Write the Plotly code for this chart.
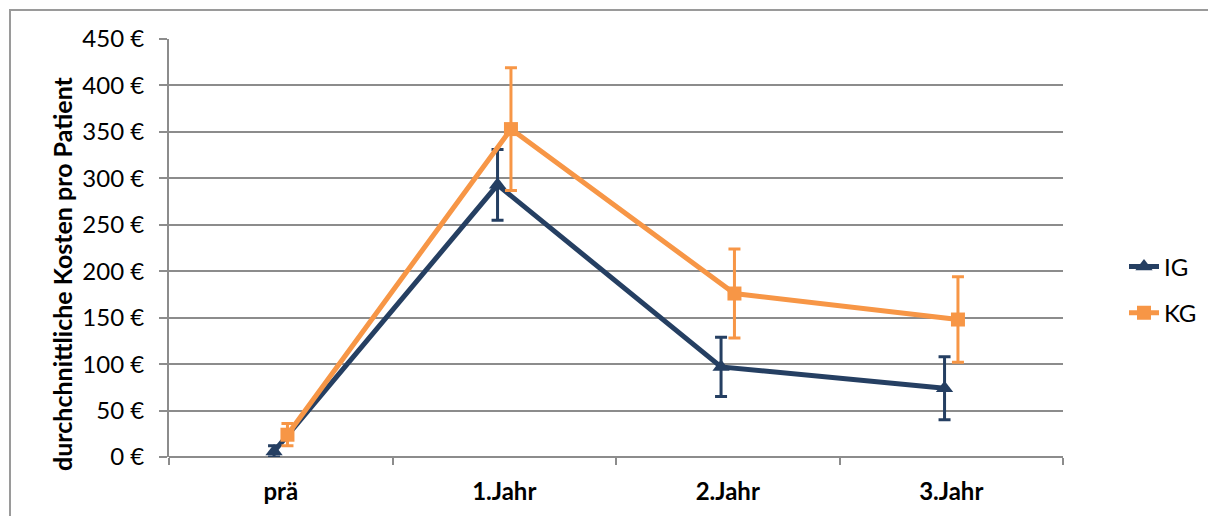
import plotly.graph_objects as go

categories = ["prä", "1.Jahr", "2.Jahr", "3.Jahr"]
ig_values = [6, 293, 97, 74]
ig_errors = [6, 38, 32, 34]
kg_values = [24, 353, 176, 148]
kg_errors = [12, 66, 48, 46]
y_tick_values = [0, 50, 100, 150, 200, 250, 300, 350, 400, 450]
y_tick_labels = [f"{v} €" for v in y_tick_values]
y_title = "durchchnittliche Kosten pro Patient"

IG_COLOR = "#253F62"
KG_COLOR = "#F79646"
GRID = "#8C8C8C"
FONT = "Lato, Open Sans, sans-serif"

# page has an 8px body margin, so the figure is sized/positioned accordingly
W, H = 1208, 508
PL, PR, PT, PB = 161, 1055, 31, 449  # plot area in figure pixels
PW, PH = PR - PL, PB - PT

idx = list(range(len(categories)))
offset = 0.03

fig = go.Figure()
fig.add_trace(go.Scatter(
    x=[i - offset for i in idx], y=ig_values, name="IG", mode="lines+markers",
    line=dict(color=IG_COLOR, width=5),
    marker=dict(symbol="triangle-up", size=15, color=IG_COLOR),
    error_y=dict(type="data", array=ig_errors, visible=True, color=IG_COLOR,
                 thickness=3, width=6),
    legendgroup="a",
))
fig.add_trace(go.Scatter(
    x=[i + offset for i in idx], y=kg_values, name="KG", mode="lines+markers",
    line=dict(color=KG_COLOR, width=5),
    marker=dict(symbol="square", size=14, color=KG_COLOR),
    error_y=dict(type="data", array=kg_errors, visible=True, color=KG_COLOR,
                 thickness=3, width=6),
    legendgroup="b",
))

fig.update_layout(
    width=W, height=H,
    margin=dict(l=PL, r=W - PR, t=PT, b=H - PB, autoexpand=False),
    paper_bgcolor="white", plot_bgcolor="white",
    font=dict(family=FONT, size=24, color="black"),
    showlegend=True,
    legend=dict(x=(1116 - PL) / PW, y=(PB - 282) / PH, xanchor="left",
                yanchor="middle",
                font=dict(size=24, color="black"), tracegroupgap=12,
                bgcolor="rgba(0,0,0,0)"),
    xaxis=dict(
        range=[-0.5, 3.5], tickmode="array", tickvals=idx, ticktext=categories,
        ticks="", showgrid=False, zeroline=False,
        showline=False,
        tickfont=dict(family=FONT, size=24, color="black", weight="bold"),
        ticklabelstandoff=18,
        minor=dict(tickmode="array", tickvals=[-0.5, 0.5, 1.5, 2.5, 3.5],
                   ticks="outside", ticklen=7, tickcolor=GRID, tickwidth=2,
                   showgrid=False),
    ),
    yaxis=dict(
        range=[0, 450], tickmode="array", tickvals=y_tick_values,
        ticktext=y_tick_labels, ticks="outside", ticklen=8, tickcolor=GRID,
        tickwidth=2, showgrid=True, gridcolor=GRID, gridwidth=1.6,
        showline=True, linecolor=GRID, linewidth=2, zeroline=False,
        tickfont=dict(family=FONT, size=24, color="black"),
        ticklabelstandoff=10,
    ),
    annotations=[
        dict(text=f"<b>{y_title}</b>", xref="paper", yref="paper",
             x=(54 - PL) / PW, y=(PB - 266) / PH, xanchor="center",
             yanchor="middle", textangle=-90, showarrow=False,
             font=dict(family=FONT, size=25, color="black")),
    ],
    shapes=[
        dict(type="line", xref="paper", yref="paper", x0=0, x1=1,
             y0=0, y1=0, line=dict(color=GRID, width=2), layer="below"),
        dict(type="rect", xref="paper", yref="paper",
             x0=(2 - PL) / PW, x1=1.4, y0=(PB - 2) / PH, y1=-0.4,
             line=dict(color="#9A9A9A", width=2)),
    ],
)

fig.write_html("out.html")
